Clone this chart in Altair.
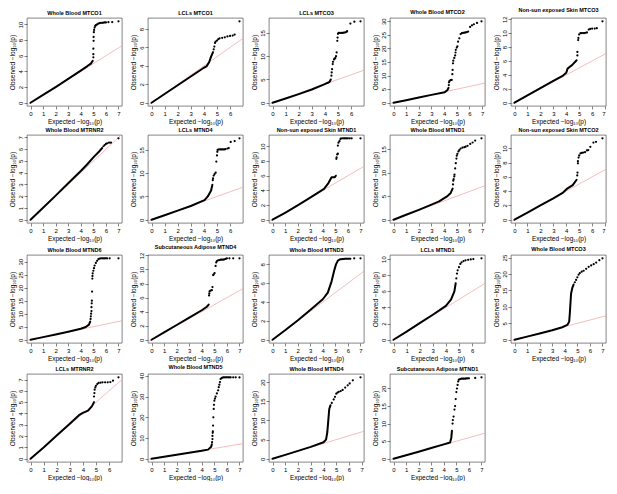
import altair as alt
import pandas as pd

FONT = "Liberation Sans"

# Each panel: title, dense band (drawn as a thick line), sparse dots (upper tail)
p01_title = "Whole Blood MTCO1"
p01_band = [(0, 0), (1, 1.0), (2, 2.0), (3, 3.05), (4, 4.1), (4.5, 4.65), (4.8, 5.0), (4.95, 5.35)]
p01_dots = [(5.0, 5.8), (5.0, 6.2), (5.0, 6.9), (5.02, 7.9), (5.02, 8.4), (5.04, 9.0), (5.06, 9.3), (5.1, 9.6),
            (5.15, 9.8), (5.2, 9.9), (5.3, 10.0), (5.4, 10.1), (5.5, 10.15), (5.6, 10.2), (5.7, 10.2), (5.8, 10.22),
            (5.9, 10.25), (6.0, 10.25), (6.2, 10.28), (6.5, 10.3), (7.0, 10.4)]
p01_step = 2

p02_title = "LCLs MTCO1"
p02_band = [(0, 0), (1, 0.95), (2, 1.9), (3, 2.85), (4, 3.8), (4.2, 3.95), (4.4, 4.4), (4.55, 5.0), (4.7, 5.5)]
p02_dots = [(4.75, 5.8), (4.8, 6.1), (4.85, 6.5), (4.9, 6.65), (5.0, 6.75), (5.1, 6.9), (5.2, 7.0), (5.4, 7.05),
            (5.6, 7.1), (5.8, 7.2), (6.0, 7.25), (6.2, 7.3), (6.35, 7.4), (6.72, 8.85)]
p02_step = 2

p03_title = "LCLs MTCO3"
p03_band = [(0, 0), (1, 0.9), (2, 1.85), (3, 2.85), (3.9, 3.9), (4.35, 4.45), (4.45, 5.0)]
p03_dots = [(4.5, 5.8), (4.52, 6.5), (4.55, 7.2), (4.6, 8.3), (4.62, 8.8), (4.7, 9.3), (4.75, 9.5), (4.8, 9.6),
            (4.85, 10.0), (4.9, 10.8), (4.95, 13.3), (4.97, 14.0), (5.0, 14.8), (5.05, 15.0), (5.15, 15.0),
            (5.25, 15.0), (5.35, 15.0), (5.45, 15.05), (5.55, 15.1), (5.65, 15.2), (5.7, 15.4), (5.95, 17.0),
            (6.25, 17.4), (6.72, 17.5)]
p03_step = 5

p04_title = "Whole Blood MTCO2"
p04_band = [(0, 0), (1, 0.95), (2, 1.9), (3, 2.9), (4.05, 3.9), (4.25, 4.6), (4.35, 5.5)]
p04_dots = [(4.37, 6.5), (4.38, 7.5), (4.42, 8.0), (4.5, 8.3), (4.6, 8.4), (4.65, 10.5), (4.67, 12.1), (4.7, 14.5),
            (4.72, 15.5), (4.8, 16.5), (4.87, 17.4), (4.9, 18.5), (4.92, 19.5), (5.0, 20.3), (5.05, 20.8),
            (5.1, 22.5), (5.2, 23.7), (5.3, 25.3), (5.4, 25.6), (5.5, 25.7), (5.6, 25.8), (5.7, 25.9), (5.8, 26.0),
            (5.9, 26.2), (6.05, 27.9), (6.2, 28.5), (6.35, 28.9), (6.6, 29.4), (6.95, 30.0)]
p04_step = 5

p05_title = "Non-sun exposed Skin MTCO3"
p05_band = [(0, 0), (1, 1.05), (2, 2.1), (3, 3.15), (3.75, 3.9), (4.0, 4.3), (4.1, 4.9), (4.5, 5.5), (4.8, 6.1)]
p05_dots = [(4.86, 6.8), (4.86, 7.3), (4.92, 9.0), (4.94, 9.3), (5.0, 9.8), (5.1, 10.0), (5.2, 10.0), (5.3, 10.0),
            (5.4, 10.0), (5.5, 10.05), (5.6, 10.1), (5.74, 10.5), (5.85, 10.6), (6.0, 10.65), (6.2, 10.65),
            (6.36, 10.7), (6.8, 11.7)]
p05_step = 2

p06_title = "Whole Blood MTRNR2"
p06_band = [(0, 0), (1, 1.02), (2, 2.05), (3, 3.1), (4, 4.15), (4.5, 4.7), (5.0, 5.3), (5.5, 5.85), (5.7, 6.1)]
p06_dots = [(5.8, 6.25), (5.9, 6.35), (6.0, 6.45), (6.1, 6.5), (6.25, 6.55), (6.4, 6.55), (7.0, 6.93)]
p06_step = 1

p07_title = "LCLs MTND4"
p07_band = [(0, 0), (1, 0.95), (2, 1.95), (3, 2.95), (4.05, 4.2), (4.3, 5.0), (4.55, 6.3), (4.65, 7.5)]
p07_dots = [(4.68, 8.5), (4.7, 8.9), (4.75, 9.5), (4.82, 9.8), (4.9, 10.1), (4.95, 12.5), (5.0, 13.8), (5.03, 14.6),
            (5.05, 15.0), (5.15, 15.1), (5.25, 15.1), (5.35, 15.1), (5.45, 15.1), (5.55, 15.1), (5.65, 15.15),
            (5.8, 15.3), (5.9, 15.4), (6.05, 16.7), (6.35, 16.9), (6.72, 17.5)]
p07_step = 5

p08_title = "Non-sun exposed Skin MTND1"
p08_band = [(0, 0), (1, 0.95), (2, 1.95), (3, 3.0), (4.1, 4.2), (4.45, 5.0), (4.7, 5.8), (4.96, 5.8), (5.04, 6.0)]
p08_dots = [(5.08, 8.3), (5.1, 8.5), (5.15, 8.9), (5.2, 9.0), (5.2, 10.1), (5.25, 10.5), (5.33, 10.7), (5.4, 11.0),
            (5.46, 11.1), (5.6, 11.1), (5.7, 11.1), (5.8, 11.1), (5.9, 11.1), (6.0, 11.1), (6.15, 11.1),
            (6.3, 11.1), (7.0, 11.1)]
p08_step = 2

p09_title = "Whole Blood MTND1"
p09_band = [(0, 0), (1, 1.05), (2, 2.1), (3, 3.2), (3.6, 3.9), (4.2, 4.9), (4.5, 5.6), (4.67, 6.6)]
p09_dots = [(4.7, 7.5), (4.72, 8.3), (4.75, 8.6), (4.8, 9.2), (4.82, 9.6), (4.87, 10.9), (4.92, 12.0), (4.97, 13.0),
            (5.0, 13.6), (5.05, 14.0), (5.13, 14.5), (5.2, 14.8), (5.3, 15.1), (5.45, 15.3), (5.6, 15.4),
            (5.7, 15.5), (5.85, 15.7), (6.06, 16.1), (6.25, 16.4), (6.45, 16.8), (6.95, 17.3)]
p09_step = 5

p10_title = "Non-sun exposed Skin MTCO2"
p10_band = [(0, 0), (1, 1.0), (2, 2.0), (3, 3.0), (3.75, 3.8), (4.1, 4.4), (4.5, 4.85), (4.8, 5.6)]
p10_dots = [(4.85, 6.2), (4.87, 6.6), (4.9, 7.9), (4.9, 8.2), (4.95, 8.7), (5.0, 9.0), (5.1, 9.3), (5.2, 9.35),
            (5.3, 9.4), (5.45, 9.45), (5.6, 9.7), (5.7, 9.75), (5.86, 10.2), (6.1, 10.8), (6.3, 10.9), (6.8, 11.4)]
p10_step = 2

p11_title = "Whole Blood MTND6"
p11_band = [(0, 0), (1, 1.0), (2, 2.05), (3, 3.1), (4, 4.2), (4.4, 4.9), (4.65, 5.8), (4.75, 7.0)]
p11_dots = [(4.78, 8.0), (4.8, 9.0), (4.82, 10.0), (4.85, 11.0), (4.85, 12.5), (4.87, 14.0), (4.88, 15.0),
            (4.9, 18.5), (4.92, 23.5), (4.93, 24.5), (4.95, 25.5), (5.0, 26.5), (5.05, 27.5), (5.1, 28.5),
            (5.2, 29.5), (5.3, 30.3), (5.4, 31.0), (5.5, 31.2), (5.6, 31.3), (5.7, 31.3), (5.8, 31.3), (5.9, 31.3),
            (6.0, 31.3), (6.1, 31.3), (6.3, 31.3), (7.0, 31.3)]
p11_step = 5

p12_title = "Subcutaneous Adipose MTND4"
p12_band = [(0, 0), (1, 1.05), (2, 2.1), (3, 3.15), (4, 4.2), (4.4, 4.7), (4.55, 5.0)]
p12_dots = [(4.58, 6.3), (4.6, 6.6), (4.62, 6.9), (4.7, 7.0), (4.8, 7.05), (4.85, 7.5), (4.9, 9.2), (4.95, 9.3),
            (5.02, 9.5), (5.1, 10.5), (5.15, 11.0), (5.2, 11.2), (5.3, 11.3), (5.4, 11.35), (5.5, 11.4),
            (5.6, 11.4), (5.7, 11.4), (5.8, 11.45), (5.9, 11.5), (6.0, 11.6), (6.2, 11.6), (6.5, 11.6), (7.0, 11.6)]
p12_step = 2

p13_title = "Whole Blood MTND3"
p13_band = [(0, 0), (1, 1.0), (2, 2.05), (3, 3.15), (4, 4.3), (4.4, 5.0), (4.7, 6.2), (4.9, 7.3), (5.05, 8.0),
            (5.2, 8.4), (5.4, 8.55), (5.8, 8.6), (6.2, 8.6)]
p13_dots = [(6.5, 8.65), (7.0, 8.65)]
p13_step = 2

p14_title = "LCLs MTND1"
p14_band = [(0, 0), (1, 1.0), (2, 2.05), (3, 3.1), (4, 4.2), (4.4, 5.0), (4.65, 6.0), (4.75, 7.0)]
p14_dots = [(4.8, 7.6), (4.85, 8.2), (4.9, 8.6), (5.0, 9.0), (5.1, 9.4), (5.2, 9.6), (5.35, 9.75), (5.5, 9.85),
            (5.7, 9.9), (5.9, 9.95), (6.1, 10.0), (6.72, 10.1)]
p14_step = 2

p15_title = "Whole Blood MTCO3"
p15_band = [(0, 0), (1, 0.95), (2, 1.9), (3, 2.9), (3.8, 3.8), (4.2, 4.5), (4.35, 5.5), (4.4, 8.0), (4.45, 11.0),
            (4.5, 14.0), (4.6, 15.8), (4.7, 16.8)]
p15_dots = [(4.8, 17.5), (4.9, 18.2), (5.0, 19.0), (5.1, 19.8), (5.2, 20.3), (5.35, 20.7), (5.5, 21.0), (5.7, 21.6),
            (5.9, 22.2), (6.1, 22.6), (6.3, 23.0), (6.5, 23.5), (6.75, 24.2), (7.0, 24.8)]
p15_step = 5

p16_title = "LCLs MTRNR2"
p16_band = [(0, 0), (1, 1.0), (2, 2.05), (3, 3.1), (3.7, 3.85), (4.0, 4.05), (4.4, 4.25), (4.7, 4.65), (4.85, 5.0)]
p16_dots = [(4.85, 5.5), (4.88, 5.8), (4.9, 6.1), (4.95, 6.3), (5.0, 6.45), (5.1, 6.6), (5.2, 6.7), (5.35, 6.72),
            (5.5, 6.75), (5.7, 6.75), (5.9, 6.75), (6.1, 6.78), (6.3, 6.9), (6.72, 7.2)]
p16_step = 1

p17_title = "Whole Blood MTND5"
p17_band = [(0, 0), (1, 0.95), (2, 1.9), (3, 2.9), (4, 3.9), (4.5, 4.4), (4.75, 5.8), (4.8, 7.0)]
p17_dots = [(4.82, 8.0), (4.85, 9.5), (4.85, 11.0), (4.87, 12.5), (4.88, 13.2), (4.9, 16.0), (4.92, 20.0),
            (4.95, 24.0), (4.97, 26.0), (5.0, 28.0), (5.05, 29.0), (5.1, 30.0), (5.2, 31.5), (5.3, 33.0),
            (5.35, 34.5), (5.4, 35.7), (5.45, 37.0), (5.5, 38.5), (5.6, 39.0), (5.7, 39.2), (5.8, 39.3),
            (5.9, 39.3), (6.0, 39.3), (6.1, 39.3), (6.2, 39.3), (6.3, 39.3), (6.5, 39.3), (6.7, 39.3), (7.0, 39.2)]
p17_step = 10

p18_title = "Whole Blood MTND4"
p18_band = [(0, 0), (1, 1.0), (2, 2.05), (3, 3.1), (4, 4.3), (4.2, 5.0), (4.3, 7.0), (4.35, 9.0), (4.4, 11.0),
            (4.45, 13.0), (4.55, 14.0)]
p18_dots = [(4.65, 14.6), (4.8, 15.5), (4.9, 16.2), (5.0, 17.0), (5.1, 17.3), (5.2, 17.5), (5.35, 17.7),
            (5.5, 18.0), (5.7, 18.6), (5.9, 19.2), (6.05, 19.7), (6.3, 20.5), (6.9, 21.3)]
p18_step = 5

p19_title = "Subcutaneous Adipose MTND1"
p19_band = [(0, 0), (1, 1.0), (2, 2.0), (3, 3.05), (4, 4.1), (4.5, 4.6), (4.6, 6.0), (4.65, 8.0)]
p19_dots = [(4.7, 10.0), (4.72, 11.0), (4.78, 12.0), (4.85, 14.0), (4.9, 15.0), (4.95, 17.0), (5.0, 19.0),
            (5.05, 20.0), (5.1, 21.0), (5.15, 22.0), (5.2, 22.5), (5.3, 22.7), (5.4, 22.8), (5.5, 22.8),
            (5.6, 22.8), (5.7, 22.8), (5.8, 22.85), (5.9, 22.9), (6.0, 22.9), (6.5, 23.0), (7.0, 23.2)]
p19_step = 5

PANELS = [
    (p01_title, p01_band, p01_dots, p01_step), (p02_title, p02_band, p02_dots, p02_step),
    (p03_title, p03_band, p03_dots, p03_step), (p04_title, p04_band, p04_dots, p04_step),
    (p05_title, p05_band, p05_dots, p05_step), (p06_title, p06_band, p06_dots, p06_step),
    (p07_title, p07_band, p07_dots, p07_step), (p08_title, p08_band, p08_dots, p08_step),
    (p09_title, p09_band, p09_dots, p09_step), (p10_title, p10_band, p10_dots, p10_step),
    (p11_title, p11_band, p11_dots, p11_step), (p12_title, p12_band, p12_dots, p12_step),
    (p13_title, p13_band, p13_dots, p13_step), (p14_title, p14_band, p14_dots, p14_step),
    (p15_title, p15_band, p15_dots, p15_step), (p16_title, p16_band, p16_dots, p16_step),
    (p17_title, p17_band, p17_dots, p17_step), (p18_title, p18_band, p18_dots, p18_step),
    (p19_title, p19_band, p19_dots, p19_step),
]

X_TITLE = "Expected  \u2212log\u2081\u2080(p)"
Y_TITLE = "Observed  \u2212log\u2081\u2080(p)"

W, H = 95, 88


def panel(title, band, dots, step):
    pts = band + dots
    xmax = max(p[0] for p in pts)
    ymax = max(p[1] for p in pts)
    xdom = [-0.04 * xmax, 1.04 * xmax]
    ydom = [-0.04 * ymax, 1.04 * ymax]
    xt = list(range(0, int(xdom[1]) + 1))
    yt = list(range(0, int(ydom[1]) + 1, step))
    xs = alt.Scale(domain=xdom, nice=False, zero=False)
    ys = alt.Scale(domain=ydom, nice=False, zero=False)
    xa = alt.Axis(values=xt, title=X_TITLE, format="d")
    ya = alt.Axis(values=yt, title=Y_TITLE, format="d", labelAngle=270,
                  labelAlign="center", labelBaseline="bottom")
    band_df = pd.DataFrame(band, columns=["x", "y"])
    dots_df = pd.DataFrame(dots, columns=["x", "y"])
    diag_df = pd.DataFrame({"x": [xdom[0], xdom[1]], "y": [xdom[0], xdom[1]]})

    diag = alt.Chart(diag_df).mark_line(color="#f2a0a0", strokeWidth=0.7, clip=True).encode(
        x=alt.X("x:Q", scale=xs, axis=xa), y=alt.Y("y:Q", scale=ys, axis=ya))
    line = alt.Chart(band_df).mark_line(color="black", strokeWidth=2.0, strokeCap="round",
                                        strokeJoin="round").encode(
        x=alt.X("x:Q", scale=xs, axis=xa), y=alt.Y("y:Q", scale=ys, axis=ya))
    pts_layer = alt.Chart(dots_df).mark_circle(color="black", size=5, opacity=1).encode(
        x=alt.X("x:Q", scale=xs, axis=xa), y=alt.Y("y:Q", scale=ys, axis=ya))
    return alt.layer(diag, line, pts_layer).properties(
        width=W, height=H,
        title=alt.TitleParams(title, fontSize=5.5, fontWeight="bold", font=FONT, offset=2, color="black"))


charts = [panel(*p) for p in PANELS]
rows = [alt.hconcat(*charts[i:i + 5], spacing=6) for i in range(0, len(charts), 5)]
chart = alt.vconcat(*rows, spacing=2).properties(padding=0).configure_view(
    stroke="#333333", strokeWidth=0.6
).configure_axis(
    grid=False, domain=False, tickSize=3, tickColor="#333333", tickWidth=0.6,
    labelFont=FONT, titleFont=FONT, labelFontSize=6, titleFontSize=6.5,
    labelPadding=1, titlePadding=2, titleFontWeight="normal", labelColor="black", titleColor="black"
)

chart.save("out.html", embed_options={"renderer": "svg", "actions": False})
